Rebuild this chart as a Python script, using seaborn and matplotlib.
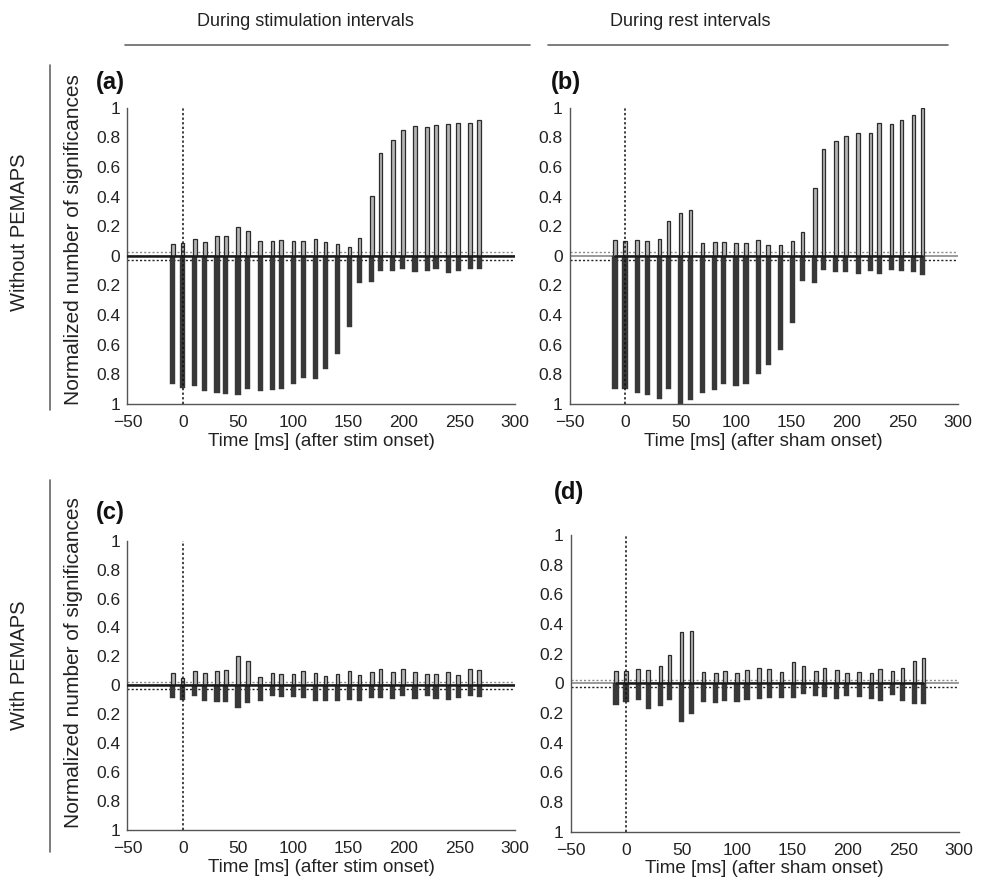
import numpy as np
import matplotlib
matplotlib.use("Agg")
import matplotlib.pyplot as plt
import seaborn as sns

# bin times (ms)
times = [-9, 0, 11, 20, 31, 39, 50, 59, 70, 81, 89, 100, 109, 120, 129,
         140, 151, 160, 171, 179, 190, 199, 210, 221, 229, 240, 249, 260, 268]

# (a) without PEMAPS, stimulation intervals
a_up = [0.083, 0.088, 0.113, 0.095, 0.135, 0.133, 0.194, 0.167, 0.097, 0.099,
        0.106, 0.097, 0.099, 0.113, 0.095, 0.079, 0.061, 0.122, 0.405, 0.696,
        0.78, 0.849, 0.874, 0.867, 0.885, 0.89, 0.90, 0.897, 0.914]
a_down = [0.865, 0.894, 0.878, 0.91, 0.923, 0.932, 0.937, 0.90, 0.912, 0.905,
          0.90, 0.867, 0.822, 0.833, 0.766, 0.662, 0.477, 0.185, 0.178, 0.099,
          0.10, 0.088, 0.106, 0.10, 0.092, 0.117, 0.099, 0.086, 0.09]

# (b) without PEMAPS, rest intervals
b_up = [0.108, 0.099, 0.106, 0.101, 0.113, 0.232, 0.286, 0.309, 0.09, 0.092,
        0.095, 0.086, 0.088, 0.104, 0.074, 0.07, 0.097, 0.164, 0.455, 0.72,
        0.775, 0.81, 0.831, 0.831, 0.896, 0.892, 0.914, 0.948, 1.0]
b_down = [0.899, 0.899, 0.923, 0.941, 0.966, 0.90, 1.0, 0.973, 0.923, 0.905,
          0.867, 0.878, 0.865, 0.80, 0.736, 0.635, 0.455, 0.169, 0.185, 0.095,
          0.11, 0.108, 0.124, 0.104, 0.124, 0.097, 0.101, 0.11, 0.128]

# (c) with PEMAPS, stimulation intervals
c_up = [0.083, 0.051, 0.101, 0.083, 0.101, 0.104, 0.203, 0.17, 0.06, 0.083,
        0.076, 0.076, 0.101, 0.088, 0.067, 0.081, 0.099, 0.069, 0.09, 0.111,
        0.094, 0.111, 0.094, 0.076, 0.076, 0.092, 0.074, 0.115, 0.106]
c_down = [0.088, 0.101, 0.076, 0.111, 0.113, 0.115, 0.159, 0.122, 0.106, 0.074,
          0.083, 0.078, 0.085, 0.106, 0.106, 0.111, 0.099, 0.108, 0.09, 0.09,
          0.097, 0.074, 0.094, 0.076, 0.092, 0.104, 0.088, 0.076, 0.08]

# (d) with PEMAPS, rest intervals
d_up = [0.085, 0.081, 0.094, 0.088, 0.115, 0.191, 0.344, 0.355, 0.076, 0.07,
        0.081, 0.07, 0.088, 0.101, 0.094, 0.074, 0.142, 0.115, 0.081, 0.106,
        0.088, 0.07, 0.074, 0.067, 0.094, 0.085, 0.103, 0.151, 0.173]
d_down = [0.144, 0.126, 0.115, 0.175, 0.153, 0.112, 0.26, 0.21, 0.128, 0.135,
          0.119, 0.124, 0.115, 0.106, 0.099, 0.101, 0.099, 0.07, 0.083, 0.094,
          0.108, 0.088, 0.094, 0.108, 0.119, 0.079, 0.119, 0.137, 0.137]

panel_letters = ["(a)", "(b)", "(c)", "(d)"]
xlabels = ["Time [ms] (after stim onset)", "Time [ms] (after sham onset)"]
col_titles = ["During stimulation intervals", "During rest intervals"]
row_titles = ["Without PEMAPS", "With PEMAPS"]
yticks = [-1, -0.8, -0.6, -0.4, -0.2, 0, 0.2, 0.4, 0.6, 0.8, 1]

sns.set_style("white")
plt.rcParams["font.family"] = ["Liberation Sans", "DejaVu Sans"]

W, H = 982, 889
fig = plt.figure(figsize=(W / 100, H / 100), dpi=100)

# axes boxes in pixels: left, right, top, bottom
boxes = [(127.4, 514.5, 107.7, 404.0),
         (569.5, 958.0, 107.7, 404.0),
         (127.4, 514.5, 540.7, 829.9),
         (570.5, 959.0, 535.0, 831.6)]
data = [(a_up, a_down), (b_up, b_down), (c_up, c_down), (d_up, d_down)]
ylabel_y = {0: 0.555, 2: 0.58}

min_gap = np.diff(times).min()
edge = "#2b2b2b"

for i, (box, (up, down)) in enumerate(zip(boxes, data)):
    l, r, t, b = box
    ax = fig.add_axes([l / W, 1 - b / H, (r - l) / W, (b - t) / H])

    # threshold lines and zero line
    ax.axhline(0.025, color="#8a8a8a", ls=(0, (1.5, 1.5)), lw=1.0, zorder=1)
    ax.axhline(-0.025, color="#222222", ls=(0, (1.5, 1.5)), lw=1.0, zorder=1)
    ax.axhline(0, color="#9a9a9a", lw=1.4, zorder=1)

    sns.barplot(x=times, y=up, native_scale=True, width=3.2 / min_gap,
                color="#b4b4b4", saturation=1, edgecolor=edge, linewidth=0.9,
                errorbar=None, ax=ax, zorder=2)
    sns.barplot(x=times, y=[-v for v in down], native_scale=True,
                width=4.6 / min_gap, color="#383838", saturation=1,
                edgecolor="#383838", linewidth=0.3, errorbar=None, ax=ax,
                zorder=2)

    if i % 2 == 0:
        ax.plot([-50, 300], [0, 0], color="#1a1a1a", lw=1.8, zorder=3)
    else:
        ax.plot([times[0], times[-1]], [0, 0], color="#1a1a1a", lw=1.8, zorder=3)

    ax.plot([0, 0], [-1, 1], color="#111111", ls=(0, (1.5, 1.5)), lw=1.1, zorder=3)

    ax.set_xlim(-50, 300)
    ax.set_ylim(-1, 1)
    ax.set_xticks(range(-50, 301, 50))
    ax.set_xticklabels([str(v).replace("-", "\u2212") for v in range(-50, 301, 50)])
    ax.set_yticks(yticks)
    ax.set_yticklabels([f"{abs(v):g}" for v in yticks])
    ax.tick_params(direction="in", length=4, width=0.9, color="#555555",
                   labelsize=12.5, labelcolor="#222222")
    ax.tick_params(axis="x", pad=8)
    ax.tick_params(axis="y", pad=5)
    for side in ["top", "right"]:
        ax.spines[side].set_visible(False)
    for side in ["left", "bottom"]:
        ax.spines[side].set_color("#555555")
        ax.spines[side].set_linewidth(1.0)

    ax.set_xlabel(xlabels[i % 2], fontsize=13.5, color="#222222", labelpad=2)
    if i % 2 == 0:
        ax.set_ylabel("Normalized number of significances", fontsize=15,
                      color="#222222")
        ax.yaxis.set_label_coords(-0.115, ylabel_y[i])

# panel letters
letter_pos = [(96, 82), (551, 82), (96, 513), (554, 493)]
for lab, (x, y) in zip(panel_letters, letter_pos):
    fig.text(x / W, 1 - y / H, lab, fontsize=17, fontweight="bold",
             va="center", ha="left", color="#111111")

# column headers with rules
for title, xc, (x0, x1) in zip(col_titles, [305, 690], [(125, 530), (548, 948)]):
    fig.text(xc / W, 1 - 22 / H, title, fontsize=13, ha="center",
             va="center", color="#222222")
    fig.add_artist(plt.Line2D([x0 / W, x1 / W], [1 - 45 / H, 1 - 45 / H],
                              color="#666666", lw=1.2))

# row headers with rules
for title, yc, (y0, y1) in zip(row_titles, [232, 665], [(65, 410), (480, 852)]):
    fig.text(20 / W, 1 - yc / H, title, fontsize=14.5, rotation=90,
             ha="center", va="center", color="#222222")
    fig.add_artist(plt.Line2D([50 / W, 50 / W], [1 - y0 / H, 1 - y1 / H],
                              color="#666666", lw=1.2))

fig.savefig("out.png", dpi=100)
plt.close(fig)
